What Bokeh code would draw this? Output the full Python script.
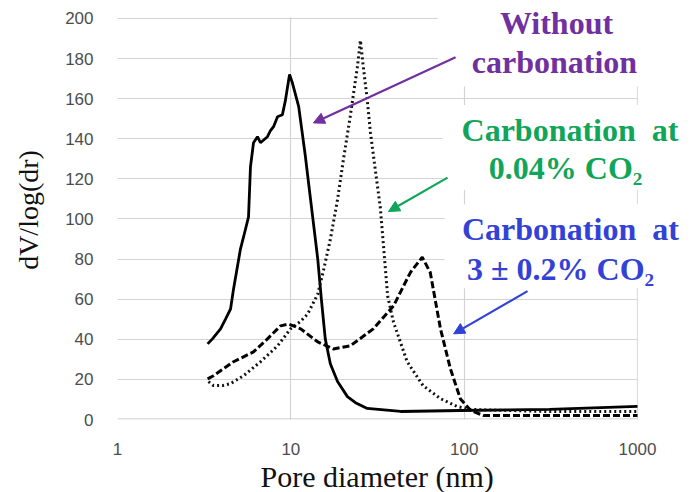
from bokeh.plotting import figure
from bokeh.models import (FixedTicker, PrintfTickFormatter, Label, Title,
                          Arrow, NormalHead, BoxAnnotation, Range1d)
from bokeh.embed import file_html
from bokeh.resources import INLINE

# ---- data ----
solid_x = [3.31, 3.53, 3.93, 4.20, 4.49, 4.67, 5.12, 5.48, 5.7, 5.85, 6.09, 6.42, 6.68, 7.33,
           7.63, 7.95, 8.38, 8.94, 9.3, 9.83, 10.2, 11.1, 12.1, 12.9, 14.3, 15.0, 15.8, 16.9,
           18.6, 21.2, 23.6, 27.6, 43, 95, 310, 1000]
solid_y = [37.7, 40.2, 45.2, 50.1, 55.1, 65, 85, 95, 101, 126, 138, 141, 138, 141,
           144, 146, 151, 152, 159, 172, 168, 156, 132, 112, 80, 60, 40.2, 27.8,
           18.9, 11.4, 8.4, 5.5, 4.0, 4.5, 5.0, 6.5]

dotted_x = [3.35, 3.58, 4.03, 4.49, 5.33, 6.69, 8.38, 9.96, 11.4, 12.5, 14.3, 15.4, 16.9,
            18.6, 20.1, 22.0, 24.2, 25.2, 26.2, 27.6, 28.8, 30.7, 32.8, 36.2, 39.1, 46.9,
            57.9, 73, 91, 109, 300, 1000]
dotted_y = [18.9, 16.9, 16.9, 17.9, 21.8, 28.8, 36.7, 45.2, 49, 52.6, 62.5, 74, 89.8,
            109.7, 129.5, 151, 175.7, 189, 175.7, 159.3, 143, 124.6, 106, 61.5, 48.6, 28.8,
            16.9, 10.4, 6.5, 5.0, 4.0, 4.0]

dashed_x = [3.31, 3.58, 4.67, 6.09, 7.33, 8.73, 9.7, 11.4, 14.3, 17.6, 22.0, 29.9, 39.1,
            49.0, 57.3, 63.7, 73, 83.3, 95, 109, 129, 1000]
dashed_y = [20.3, 21.8, 28.8, 33.7, 40.2, 46.7, 47.6, 45.2, 38.7, 35.2, 36.7, 45.2, 56.6,
            73.4, 80.9, 73.4, 45.2, 25.3, 10.4, 4.5, 2.0, 2.0]

x_ticks = [1, 10, 100, 1000]
y_ticks = [0, 20, 40, 60, 80, 100, 120, 140, 160, 180, 200]

x_title = "Pore diameter (nm)"
y_title = "dV/log(dr)"
label_without = ["Without", "carbonation"]
label_green = ["Carbonation\u2002at", "0.04% CO\u2082"]
label_blue = ["Carbonation\u2002at", "3 \u00b1 0.2% CO\u2082"]

PURPLE = "#7030A0"
GREEN = "#10A558"
BLUE = "#3342D6"

# plot area: x 1..1000 spans 520 px, frame extended to the page's right edge so that
# annotation texts beyond the last gridline are not clipped; y 0..200 spans 403 px.
W, H = 698, 492
LEFT, BOTTOM = 117, 71
px_per_dec = 520 / 3.0
x_end = 10 ** ((W - LEFT) / px_per_dec)
px_per_unit = 403 / 200.0
y_end = (H - BOTTOM) / px_per_unit

p = figure(width=W, height=H, x_axis_type="log", output_backend="svg",
           toolbar_location=None, x_range=Range1d(1, x_end), y_range=Range1d(0, y_end),
           min_border_left=LEFT, min_border_right=0, min_border_top=0, min_border_bottom=BOTTOM)
p.outline_line_color = None
p.background_fill_color = "white"

# grid
p.xgrid.ticker = FixedTicker(ticks=x_ticks)
p.ygrid.ticker = FixedTicker(ticks=y_ticks)
for g in (p.xgrid, p.ygrid):
    g.grid_line_color = "#d4d4d4"
    g.grid_line_width = 1.2
    g.minor_grid_line_color = None

# axes
p.xaxis.ticker = FixedTicker(ticks=x_ticks)
p.xaxis.formatter = PrintfTickFormatter(format="%d")
p.yaxis.ticker = FixedTicker(ticks=y_ticks)
for ax in (p.xaxis, p.yaxis):
    ax.major_tick_line_color = None
    ax.minor_tick_line_color = None
    ax.axis_line_color = None
    ax.major_label_text_font = "Liberation Sans"
    ax.major_label_text_font_size = "17px"
    ax.major_label_text_color = "#4d4d4d"
    ax.axis_label_text_font = "Liberation Serif"
    ax.axis_label_text_font_style = "normal"
    ax.axis_label_text_color = "#111111"
p.yaxis.axis_label = y_title
p.yaxis.axis_label_text_font_size = "28px"
p.yaxis.major_label_standoff = 18
p.yaxis.axis_label_standoff = 18
p.xaxis.major_label_standoff = 17

# x title placed below the axis, starting under x ~ 2.3 like the reference
p.add_layout(Title(text=x_title, align="left", offset=143, standoff=0,
                   text_font="Liberation Serif", text_font_size="30px",
                   text_font_style="normal", text_color="#111111"), "below")

# hide gridlines outside the 1..1000 x 0..200 area
p.add_layout(BoxAnnotation(bottom=200.6, fill_color="white", fill_alpha=1.0,
                           line_color=None, level="underlay"))
p.add_layout(BoxAnnotation(left=1004, fill_color="white", fill_alpha=1.0,
                           line_color=None, level="underlay"))
# slightly darker baseline along y = 0
p.add_layout(BoxAnnotation(left=1, right=1000, bottom=0, top=0.5, fill_color="#bfbfbf",
                           fill_alpha=1.0, line_color=None, level="underlay"))

# white boxes behind annotation texts
for left, bottom, top in [(70.5, 166, None), (75.3, 114.6, 156.8), (77.3, 65.5, 107.2)]:
    p.add_layout(BoxAnnotation(left=left, right=None, bottom=bottom, top=top,
                               fill_color="white", fill_alpha=1.0, line_color=None,
                               level="underlay"))

# curves
p.line(solid_x, solid_y, line_color="black", line_width=2.8)
p.line(dotted_x, dotted_y, line_color="#111111", line_width=3, line_dash="2 3")
p.line(dashed_x, dashed_y, line_color="black", line_width=3, line_dash="7 3")

# annotation texts
def add_text(txt, x, y, color):
    p.add_layout(Label(x=x, y=y, text=txt, text_align="center", text_baseline="alphabetic",
                       text_font="Liberation Serif", text_font_style="bold",
                       text_font_size="32px", text_color=color))

add_text(label_without[0], 341, 197.6, PURPLE)
add_text(label_without[1], 332, 178.2, PURPLE)
add_text(label_green[0], 408, 144.5, GREEN)
add_text(label_green[1], 385, 125.6, GREEN)
add_text(label_blue[0], 410, 94.8, BLUE)
add_text(label_blue[1], 360, 75.0, BLUE)

# arrows
for (xs, ys, xe, ye, c) in [(89.2, 180.6, 13.5, 147.9, PURPLE),
                            (80.2, 120.6, 36.6, 103.7, GREEN),
                            (232, 64, 86.9, 42.7, BLUE)]:
    p.add_layout(Arrow(x_start=xs, y_start=ys, x_end=xe, y_end=ye, line_color=c,
                       line_width=2.2,
                       end=NormalHead(size=11, fill_color=c, line_color=c, line_width=1)))

open("out.html", "w").write(file_html(p, INLINE))
